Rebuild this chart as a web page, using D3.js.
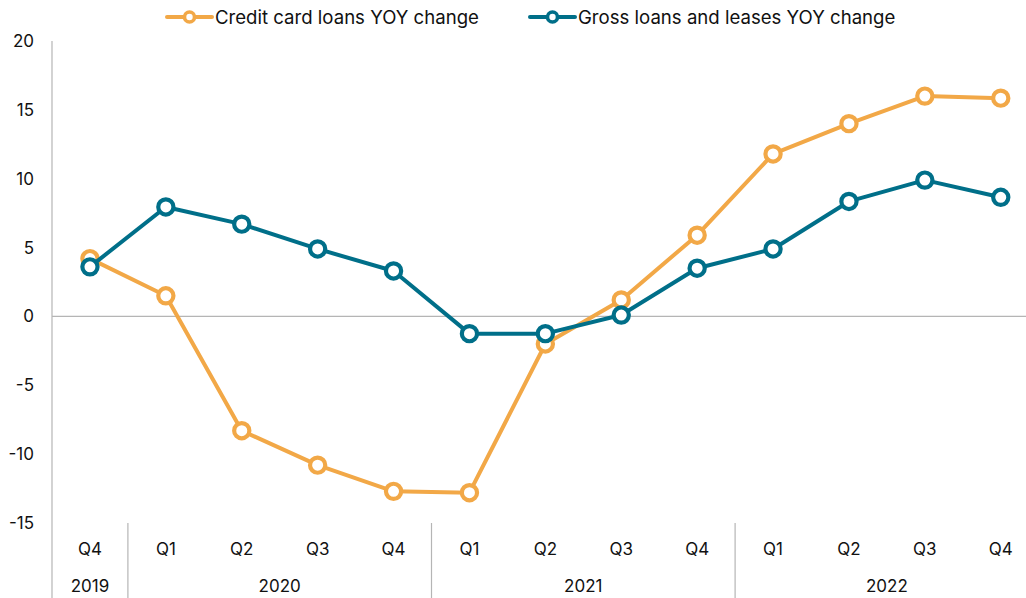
<!DOCTYPE html>
<html>
<head>
<meta charset="utf-8">
<script src="https://cdn.jsdelivr.net/npm/d3@7"></script>
<style>
  html, body { margin: 0; padding: 0; background: #fff; }
  svg { display: block; font-family: Inter, "Open Sans", sans-serif; }
</style>
</head>
<body>
<svg id="chart" width="1026" height="598"></svg>
<script>
// Quarterly year-over-year change (%)
const quarters = ["Q4", "Q1", "Q2", "Q3", "Q4", "Q1", "Q2", "Q3", "Q4", "Q1", "Q2", "Q3", "Q4"];
const years = ["2019", "2020", "2020", "2020", "2020", "2021", "2021", "2021", "2021", "2022", "2022", "2022", "2022"];
const creditCard = [4.2, 1.5, -8.3, -10.8, -12.7, -12.8, -2.0, 1.2, 5.9, 11.8, 14.0, 16.0, 15.85];
const grossLoans = [3.6, 7.95, 6.7, 4.9, 3.3, -1.25, -1.25, 0.1, 3.5, 4.9, 8.35, 9.9, 8.65];
const yTicks = [20, 15, 10, 5, 0, -5, -10, -15];

const seriesNames = ["Credit card loans YOY change", "Gross loans and leases YOY change"];
const seriesColors = ["#F2A847", "#006F89"];

const svg = d3.select("#chart");
const plotLeft = 52, plotRight = 1026, plotTop = 41, plotBottom = 523;

const idx = d3.range(quarters.length);
const x = d3.scaleBand().domain(idx).range([plotLeft, plotLeft + 75.9 * quarters.length]).paddingInner(0);
const y = d3.scaleLinear().domain([-15, 20]).range([plotBottom, plotTop]);
const cx = i => x(i) + x.bandwidth() / 2;

// Y axis labels (plain hyphen for negatives)
const yAxis = d3.axisLeft(y).tickValues(yTicks).tickFormat(d => String(d)).tickSize(0).tickPadding(0);
const yg = svg.append("g").attr("transform", `translate(34,0)`).call(yAxis);
yg.select(".domain").remove();
yg.selectAll("text").attr("font-size", 17).attr("fill", "#111").attr("font-family", "Inter, sans-serif");

// Left axis line
svg.append("line").attr("x1", plotLeft).attr("x2", plotLeft).attr("y1", plotTop).attr("y2", 598)
  .attr("stroke", "#b5b5b5").attr("stroke-width", 1.2);

// Zero line
svg.append("line").attr("x1", plotLeft).attr("x2", plotRight).attr("y1", y(0)).attr("y2", y(0))
  .attr("stroke", "#b5b5b5").attr("stroke-width", 1.2);

// Quarter labels
const xAxis = d3.axisBottom(x).tickFormat(i => quarters[i]).tickSize(0).tickPadding(0);
const xg = svg.append("g").attr("transform", `translate(0,${plotBottom + 32})`).call(xAxis);
xg.select(".domain").remove();
xg.selectAll("text").attr("font-size", 17).attr("fill", "#111").attr("dy", "0").attr("font-family", "Inter, sans-serif");

// Year groups
const groups = d3.groups(idx, i => years[i]);
groups.forEach(([yr, members], gi) => {
  const x0 = x(members[0]);
  const x1 = x(members[members.length - 1]) + x.bandwidth();
  svg.append("text").attr("x", (x0 + x1) / 2).attr("y", plotBottom + 69)
    .attr("text-anchor", "middle").attr("font-size", 17).attr("fill", "#111").text(yr);
  if (gi < groups.length - 1) {
    svg.append("line").attr("x1", x1).attr("x2", x1).attr("y1", plotBottom).attr("y2", 598)
      .attr("stroke", "#b5b5b5").attr("stroke-width", 1.2);
  }
});

// Series lines and markers
const line = d3.line().x((d, i) => cx(i)).y(d => y(d));
[creditCard, grossLoans].forEach((vals, s) => {
  const g = svg.append("g");
  g.append("path").datum(vals).attr("d", line).attr("fill", "none")
    .attr("stroke", seriesColors[s]).attr("stroke-width", 4).attr("stroke-linejoin", "round");
  g.selectAll("circle").data(vals).join("circle")
    .attr("cx", (d, i) => cx(i)).attr("cy", d => y(d)).attr("r", 7.6)
    .attr("fill", "#fff").attr("stroke", seriesColors[s]).attr("stroke-width", 4.2);
});

// Legend
const legendX = [167, 530];
seriesNames.forEach((name, s) => {
  const g = svg.append("g").attr("transform", `translate(${legendX[s]},17)`);
  g.append("line").attr("x1", 0).attr("x2", 45).attr("y1", 0).attr("y2", 0)
    .attr("stroke", seriesColors[s]).attr("stroke-width", 4).attr("stroke-linecap", "round");
  g.append("circle").attr("cx", 22.5).attr("cy", 0).attr("r", 5)
    .attr("fill", "#fff").attr("stroke", seriesColors[s]).attr("stroke-width", 3.6);
  g.append("text").attr("x", 48).attr("y", 0).attr("dy", "0.35em")
    .attr("font-size", 18.6).attr("fill", "#111").text(name);
});
</script>
</body>
</html>
